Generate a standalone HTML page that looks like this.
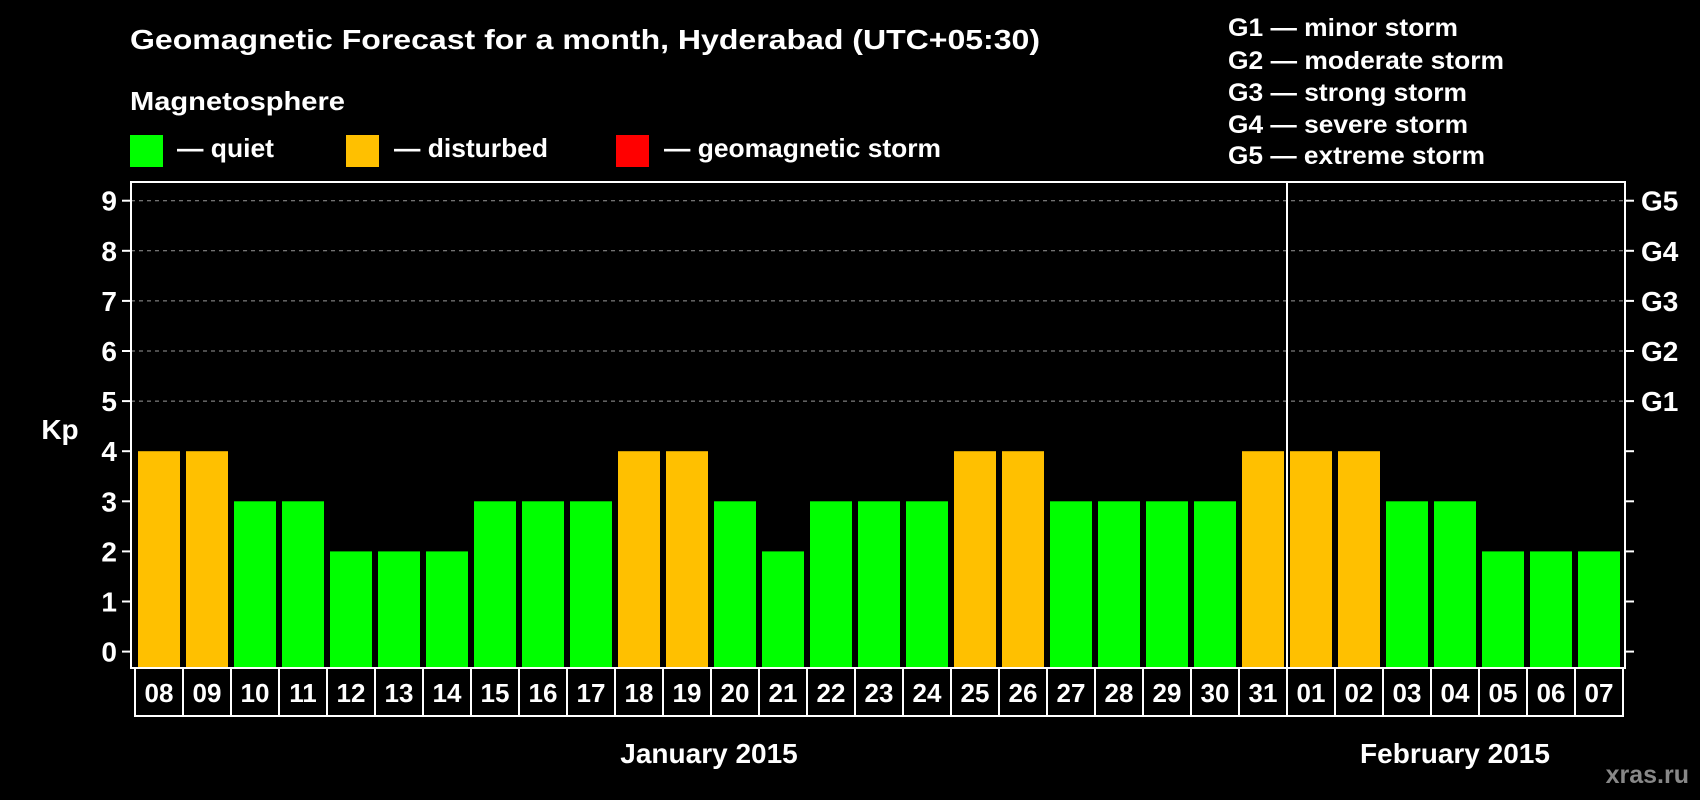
<!DOCTYPE html>
<html><head><meta charset="utf-8"><style>
html,body{margin:0;padding:0;background:#000;}
svg{display:block;font-family:"Liberation Sans",sans-serif;font-weight:bold;}
</style></head><body>
<svg id="chart" width="1700" height="800" viewBox="0 0 1700 800">
<rect width="1700" height="800" fill="#000"/>
<text x="130" y="49" fill="#fff" font-size="28" textLength="910" lengthAdjust="spacingAndGlyphs">Geomagnetic Forecast for a month, Hyderabad (UTC+05:30)</text>
<text x="130" y="110" fill="#fff" font-size="26" textLength="215" lengthAdjust="spacingAndGlyphs">Magnetosphere</text>
<g>
<rect x="130" y="135" width="33" height="32" fill="#00ff00"/>
<text x="177" y="157" fill="#fff" font-size="26" textLength="97" lengthAdjust="spacingAndGlyphs">— quiet</text></g>
<g>
<rect x="346" y="135" width="33" height="32" fill="#ffc000"/>
<text x="394" y="157" fill="#fff" font-size="26" textLength="154" lengthAdjust="spacingAndGlyphs">— disturbed</text></g>
<g>
<rect x="616" y="135" width="33" height="32" fill="#ff0000"/>
<text x="664" y="157" fill="#fff" font-size="26" textLength="277" lengthAdjust="spacingAndGlyphs">— geomagnetic storm</text></g>
<g fill="#fff" font-size="25">
<text x="1228" y="36" textLength="230" lengthAdjust="spacingAndGlyphs">G1 — minor storm</text>
<text x="1228" y="69" textLength="276" lengthAdjust="spacingAndGlyphs">G2 — moderate storm</text>
<text x="1228" y="101" textLength="239" lengthAdjust="spacingAndGlyphs">G3 — strong storm</text>
<text x="1228" y="133" textLength="240" lengthAdjust="spacingAndGlyphs">G4 — severe storm</text>
<text x="1228" y="164" textLength="257" lengthAdjust="spacingAndGlyphs">G5 — extreme storm</text>
</g>
<g id="grid"></g>
<g id="bars"></g>
<rect x="131" y="182" width="1494" height="486" fill="none" stroke="#fff" stroke-width="2"/>
<line x1="1287" y1="182" x2="1287" y2="668" stroke="#fff" stroke-width="2"/>
<g id="axes"></g>
<text x="60" y="439" fill="#fff" font-size="28" text-anchor="middle">Kp</text>
<text x="709" y="763" fill="#fff" font-size="28" text-anchor="middle">January 2015</text>
<text x="1455" y="763" fill="#fff" font-size="28" text-anchor="middle">February 2015</text>
<text x="1689" y="783" fill="#888" font-size="25" text-anchor="end">xras.ru</text>
</svg>
<script>
const days = ["08","09","10","11","12","13","14","15","16","17","18","19","20","21","22","23","24","25","26","27","28","29","30","31","01","02","03","04","05","06","07"];
const kpValues = [4,4,3,3,2,2,2,3,3,3,4,4,3,2,3,3,3,4,4,3,3,3,3,4,4,4,3,3,2,2,2];
const yTicks = [0,1,2,3,4,5,6,7,8,9];
const gLabels = ["G1","G2","G3","G4","G5"];
const NS = "http://www.w3.org/2000/svg";
const y0 = 651.6, unit = 50.1, x0 = 138, pitch = 48, bw = 42, plotBottom = 668;
function yScale(v){ return y0 - v*unit; }
function xScale(i){ return x0 + i*pitch; }
function colorFor(v){ return v>=5 ? "#ff0000" : (v>=4 ? "#ffc000" : "#00ff00"); }
function mk(tag, attrs){ const e=document.createElementNS(NS,tag); for(const k in attrs) e.setAttribute(k,attrs[k]); return e; }
const grid=document.getElementById("grid"), bars=document.getElementById("bars"), axes=document.getElementById("axes");
yTicks.forEach(v=>{
  const y=yScale(v);
  if(v>=5){
    const g=mk("line",{x1:131,x2:1625,y1:y,y2:y,stroke:"#999","stroke-dasharray":"4,4","stroke-width":1});
    
    
    grid.appendChild(g);
  }
  const t1=mk("line",{x1:122,x2:131,y1:y,y2:y,stroke:"#fff","stroke-width":2});
  
  
  axes.appendChild(t1);
  const t2=mk("line",{x1:1625,x2:1634,y1:y,y2:y,stroke:"#fff","stroke-width":2});
  
  
  axes.appendChild(t2);
  const lb=mk("text",{x:117,y:y+10,fill:"#fff","font-size":28,"text-anchor":"end"});
  lb.textContent=String(v);
  
  
  axes.appendChild(lb);
});
gLabels.forEach((g,i)=>{
  const lb=mk("text",{x:1641,y:yScale(5+i)+10,fill:"#fff","font-size":28});
  lb.textContent=g;
  
  
  axes.appendChild(lb);
});
kpValues.forEach((v,i)=>{
  const r=mk("rect",{x:xScale(i),y:yScale(v),width:bw,height:plotBottom-1-yScale(v),fill:colorFor(v)});
  
  
  bars.appendChild(r);
});
days.forEach((d,i)=>{
  const bx=xScale(i)-3;
  const b=mk("rect",{x:bx,y:plotBottom,width:pitch,height:48,fill:"none",stroke:"#fff","stroke-width":2});
  
  
  axes.appendChild(b);
  const t=mk("text",{x:bx+pitch/2,y:702,fill:"#fff","font-size":26,"text-anchor":"middle"});
  t.textContent=d;
  
  
  axes.appendChild(t);
});
</script>
</body></html>
